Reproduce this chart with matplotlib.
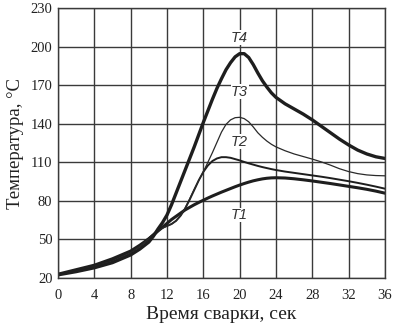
import matplotlib
matplotlib.use("Agg")
import matplotlib.pyplot as plt

# time, s
x = [0, 2, 4, 6, 8, 9,
     10, 10.5, 11, 11.5, 12, 12.5, 13, 13.5, 14, 14.5, 15, 15.5, 16, 16.5,
     17, 17.5, 18, 18.5, 19, 19.5, 20, 20.5, 21, 21.5, 22, 22.5, 23, 23.5, 24,
     25, 26, 27, 28, 29, 30, 31, 32, 33, 34, 35, 36]

T1 = [23, 26.5, 30, 35, 41, 45.5,
      50.5, 53.5, 56.5, 59.5, 62.5, 65.5, 68, 70.5, 73, 75, 77, 78.8, 80.5, 82.2,
      83.8, 85.3, 86.8, 88.2, 89.6, 91, 92.3, 93.5, 94.6, 95.6, 96.4, 97.1, 97.6, 97.9, 98,
      97.8, 97.2, 96.4, 95.5, 94.5, 93.5, 92.4, 91.3, 90.2, 89, 87.6, 86]
T2 = [22.5, 26, 29.5, 34, 40.5, 45,
      51, 54, 57, 59, 60.5, 62, 64.5, 68.5, 74, 81, 88.5, 96, 102.5, 107.5,
      111, 113, 114, 114, 113.5, 112.5, 111.5, 110.3, 109.2, 108.2, 107.2, 106.3, 105.5, 104.7, 104,
      102.8, 101.8, 100.8, 99.8, 98.8, 97.7, 96.5, 95.3, 94, 92.6, 91.1, 89.5]
T3 = [22.5, 25.5, 29, 33, 39.5, 44.5,
      50.5, 53.5, 56.5, 58.8, 60.5, 62, 64.5, 68.5, 74.5, 81.5, 89, 96, 102.5, 110,
      117.5, 125.5, 133.5, 139.5, 143, 144.7, 145, 144, 141.5, 137.5, 133, 129.5, 126.5, 124, 122,
      119, 116.5, 114.5, 112.5, 110.3, 107.8, 105, 102.8, 101.2, 100.2, 99.7, 99.5]
T4 = [22.5, 25, 28, 32, 38, 42.5,
      48, 52.5, 58, 63, 69, 77, 86, 95, 104, 113, 122, 131.5, 141, 150,
      159, 167.5, 175, 182, 187.5, 192, 194.5, 194.5, 191.5, 186, 179.5, 173.5, 168.5, 164, 160.5,
      155.5, 151.5, 147.5, 143, 138, 133, 128, 123.5, 119.5, 116.5, 114.3, 113]

xticks = [0, 4, 8, 12, 16, 20, 24, 28, 32, 36]
yticks = [20, 50, 80, 110, 140, 170, 200, 230]

labels = ["T1", "T2", "T3", "T4"]
label_pos = [(20, 69), (20, 126), (20, 165), (20, 207)]

plt.rcParams['font.family'] = ['Liberation Serif', 'DejaVu Serif']

fig = plt.figure(figsize=(4.01, 3.31), dpi=100)
ax = fig.add_axes([0.1446, 0.160, 0.8154, 0.8158])

grid_c = '#3a3a3a'
ax.set_xlim(0, 36)
ax.set_ylim(20, 230)
ax.set_xticks(xticks)
ax.set_yticks(yticks)
ax.grid(True, color=grid_c, linewidth=1.0)
ax.set_axisbelow(True)
for s in ax.spines.values():
    s.set_color(grid_c)
    s.set_linewidth(1.0)
ax.tick_params(axis='both', length=0, labelsize=10.5, colors='#222222')
ax.tick_params(axis='x', pad=8)
ax.tick_params(axis='y', pad=4)

line_c = '#1e1e1e'
ax.plot(x, T1, color=line_c, linewidth=2.2, solid_joinstyle='round')
ax.plot(x, T2, color=line_c, linewidth=1.4, solid_joinstyle='round')
ax.plot(x, T3, color='#2a2a2a', linewidth=0.9, solid_joinstyle='round')
ax.plot(x, T4, color=line_c, linewidth=2.4, solid_joinstyle='round')

for lab, (lx, ly) in zip(labels, label_pos):
    ax.text(lx, ly, lab, ha='center', va='center', fontsize=10.5,
            style='italic', family=['Liberation Sans', 'DejaVu Sans'],
            color='#333333',
            bbox=dict(facecolor='white', edgecolor='none', pad=0.3))

ax.set_xlabel("Время сварки, сек", fontsize=14, color='#222222', labelpad=3)
ax.set_ylabel("Температура, °С", fontsize=13.5, color='#222222', labelpad=5)

fig.savefig("out.png", dpi=100)
